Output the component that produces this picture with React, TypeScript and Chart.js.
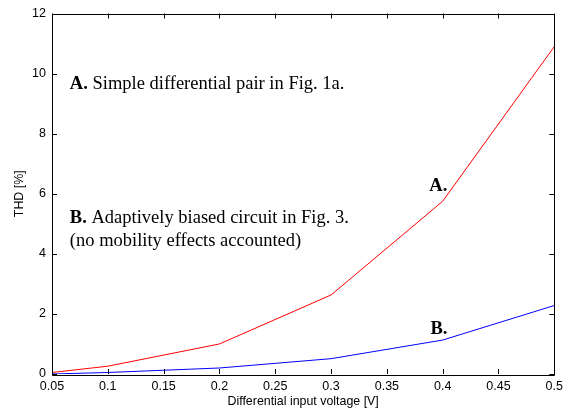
import React, { useEffect, useRef } from "react";
import { Chart, registerables } from "chart.js";

Chart.register(...registerables);

const xValues = [0.05, 0.1, 0.2, 0.3, 0.4, 0.5];
const seriesA = [0.05, 0.26, 1.0, 2.63, 5.75, 10.9];
const seriesB = [0.0, 0.05, 0.2, 0.51, 1.13, 2.28];
const xTicks = [0.05, 0.1, 0.15, 0.2, 0.25, 0.3, 0.35, 0.4, 0.45, 0.5];
const yTicks = [0, 2, 4, 6, 8, 10, 12];
const xTitle = "Differential input voltage [V]";
const yTitle = "THD [%]";

const annotations = [
  { x: 0.066, y: 9.5, bold: "A.", rest: " Simple differential pair in Fig. 1a." },
  { x: 0.066, y: 5.04, bold: "B.", rest: " Adaptively biased circuit in Fig. 3." },
  { x: 0.066, y: 4.26, bold: "", rest: "(no mobility effects accounted)" },
  { x: 0.388, y: 6.09, bold: "A.", rest: "" },
  { x: 0.389, y: 1.34, bold: "B.", rest: "" },
];

const boxPlugin = {
  id: "boxPlugin",
  afterDatasetsDraw(chart: any) {
    const { ctx, chartArea: a, scales } = chart;
    const xs = scales.x, ys = scales.y;
    ctx.save();
    ctx.strokeStyle = "#000";
    ctx.lineWidth = 1;
    ctx.beginPath();
    ctx.rect(Math.round(a.left) + 0.5, Math.round(a.top) + 0.5, Math.round(a.right - a.left), Math.round(a.bottom - a.top));
    ctx.stroke();
    const L = 5;
    ctx.beginPath();
    xTicks.forEach((t) => {
      const px = Math.round(xs.getPixelForValue(t)) + 0.5;
      ctx.moveTo(px, a.bottom); ctx.lineTo(px, a.bottom - L);
      ctx.moveTo(px, a.top); ctx.lineTo(px, a.top + L);
    });
    yTicks.forEach((t) => {
      const py = Math.round(ys.getPixelForValue(t)) + 0.5;
      ctx.moveTo(a.left, py); ctx.lineTo(a.left + L, py);
      ctx.moveTo(a.right, py); ctx.lineTo(a.right - L, py);
    });
    ctx.stroke();
    ctx.fillStyle = "#000";
    ctx.textBaseline = "alphabetic";
    annotations.forEach((an) => {
      const px = xs.getPixelForValue(an.x);
      const py = ys.getPixelForValue(an.y);
      ctx.font = "bold 18.5px 'Liberation Serif', 'Times New Roman', serif";
      ctx.fillText(an.bold, px, py);
      const w = an.bold ? ctx.measureText(an.bold).width : 0;
      ctx.font = "18.5px 'Liberation Serif', 'Times New Roman', serif";
      ctx.fillText(an.rest, px + w, py);
    });
    ctx.restore();
  },
};

export default function App() {
  const ref = useRef<HTMLCanvasElement>(null);
  useEffect(() => {
    document.body.style.margin = "0";
    const family = "'Liberation Sans', Arial, sans-serif";
    const font = { family, size: 12.5 };
    const chart = new Chart(ref.current as HTMLCanvasElement, {
      type: "line",
      data: {
        labels: xValues,
        datasets: [
          {
            data: xValues.map((x, i) => ({ x, y: seriesA[i] })),
            borderColor: "#ff0000",
            borderWidth: 1,
            pointRadius: 0,
            tension: 0,
          },
          {
            data: xValues.map((x, i) => ({ x, y: seriesB[i] })),
            borderColor: "#0000ff",
            borderWidth: 1,
            pointRadius: 0,
            tension: 0,
          },
        ],
      },
      options: {
        animation: false,
        responsive: false,
        layout: { padding: { top: 5, right: 13, bottom: 0, left: 0 } },
        plugins: { legend: { display: false }, tooltip: { enabled: false } },
        scales: {
          x: {
            type: "linear",
            min: 0.05,
            max: 0.5,
            afterBuildTicks: (s: any) => { s.ticks = xTicks.map((v) => ({ value: v })); },
            afterFit: (s: any) => { s.height = 43; },
            ticks: {
              color: "#000",
              font,
              padding: 5,
              maxRotation: 0,
              autoSkip: false,
              callback: (v: any) => String(+Number(v).toFixed(2)),
            },
            grid: { display: false, drawTicks: false },
            border: { display: false },
            title: { display: true, text: xTitle, color: "#000", font: { family, size: 12.4 }, padding: { top: 0, bottom: 8 } },
          },
          y: {
            type: "linear",
            min: 0,
            max: 12,
            afterBuildTicks: (s: any) => { s.ticks = yTicks.map((v) => ({ value: v })); },
            afterFit: (s: any) => { s.width = 52; },
            ticks: { color: "#000", font, padding: 6, autoSkip: false },
            grid: { display: false, drawTicks: false },
            border: { display: false },
            title: { display: true, text: yTitle, color: "#000", font: { family, size: 12.4 }, padding: { top: 12, bottom: 0 } },
          },
        },
      },
      plugins: [boxPlugin],
    });
    return () => chart.destroy();
  }, []);
  return <canvas ref={ref} width={568} height={417} style={{ display: "block" }} />;
}
